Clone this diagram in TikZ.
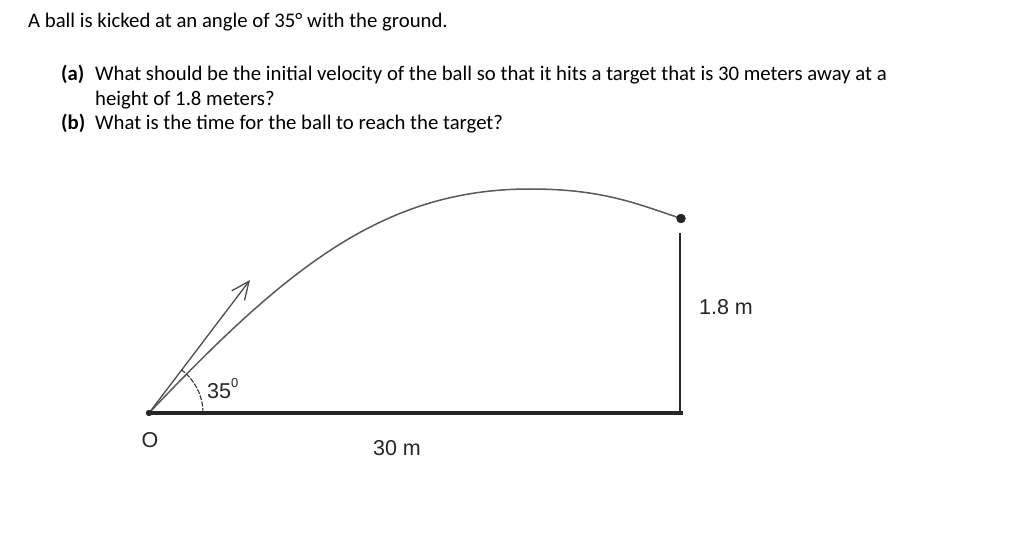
\documentclass[tikz,border=0pt]{standalone}
\usepackage{fontspec}
\setmainfont{Carlito}
\newfontfamily\arialf{Liberation Sans}
\usetikzlibrary{arrows.meta}
\tikzset{
  txt/.style={anchor=base west, inner sep=0pt, font=\fontsize{20.75}{24}\selectfont},
  boldtxt/.style={txt, font=\bfseries\fontsize{20.75}{24}\selectfont},
  lbl/.style={inner sep=0pt, font=\arialf\fontsize{21.5}{24}\selectfont, text=black!85},
  ground/.style={line width=3.8pt, black!85},
  thin/.style={line width=1.4pt, black!85},
  traj/.style={line width=1.5pt, black!65},
  vel/.style={line width=1.3pt, black!70, -{Straight Barb[length=18pt,width=16pt,line width=1.3pt]}},
  anglearc/.style={line width=1.1pt, black!80, dash pattern=on 5pt off 1.5pt}
}
\begin{document}
\begin{tikzpicture}[x=1pt,y=-1pt]
\useasboundingbox (0,0) rectangle (1024,545);
% texts
\node[txt] (t1) at (28,28) {A ball is kicked at an angle of 35° with the ground.};
\node[boldtxt] (qa) at (61,81) {(a)};
\node[txt] (ta1) at (95,81) {What should be the initial velocity of the ball so that it hits a target that is 30 meters away at a};
\node[txt] (ta2) at (95,105.5) {height of 1.8 meters?};
\node[boldtxt] (qb) at (61,130) {(b)};
\node[txt] (tb) at (95,130) {What is the time for the ball to reach the target?};
% geometry
\coordinate (O) at (149,413);
\coordinate (G) at (683,413);
\coordinate (P) at (530,189);
\coordinate (B) at (681,218.5);
\coordinate (Vtop) at (680,233);
\coordinate (Vbot) at (680,413);
\coordinate (Vtip) at (250,280);
% trajectory
\draw[traj] (O) .. controls (286.6,268) and (383.1,189) .. (P)
                .. controls (600,189) and (633.6,202.4) .. (B);
% velocity arrow
\draw[vel] (O) -- (Vtip);
% angle arc
\draw[anglearc] ([xshift=54pt]O) arc[start angle=0, end angle=52.7, radius=54pt];
% ground and height
\draw[ground] (O) -- (G);
\draw[thin] (Vtop) -- (Vbot);
\fill[black!85] (O) circle[radius=3.2pt];
\filldraw[black!85, line width=0.8pt] (B) circle[radius=4.3pt];
% labels
\node[lbl] (lo) at (150,440) {O};
\node[lbl] (l30) at (397,448) {30 m};
\node[lbl] (l18) at (726,307) {1.8 m};
\node[lbl, anchor=base west] (lang) at (207,398) {35\raisebox{0.5em}{\fontsize{13}{13}\selectfont 0}};
\end{tikzpicture}
\end{document}
